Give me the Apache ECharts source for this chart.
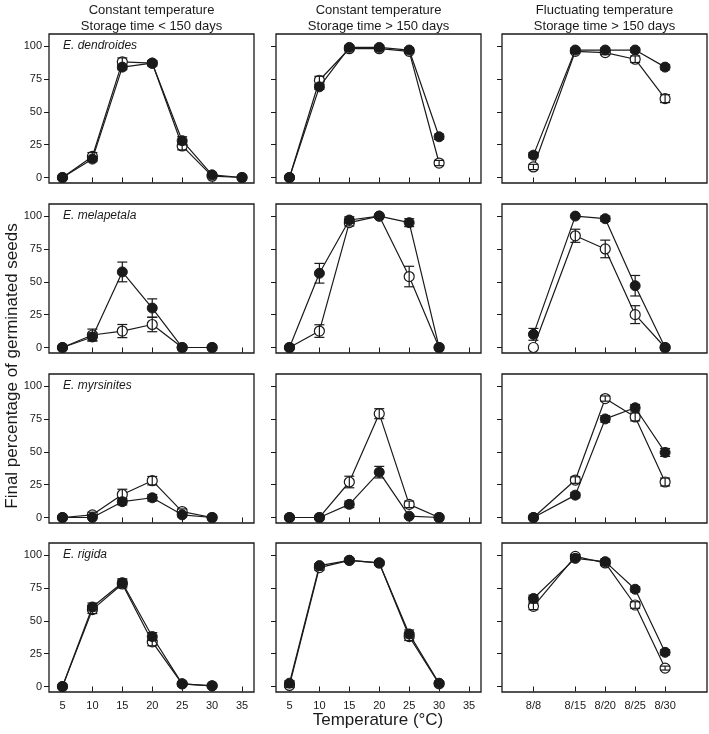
<!DOCTYPE html>
<html>
<head>
<meta charset="utf-8">
<script src="https://cdn.jsdelivr.net/npm/echarts@6/dist/echarts.min.js"></script>
<style>
  html, body { margin: 0; padding: 0; background: #fff; }
  #chart { width: 709px; height: 734px; }
</style>
</head>
<body>
<div id="chart"></div>
<script>
// x positions / tick labels
const tempX = [5, 10, 15, 20, 25, 30, 35]
const fluctX = [8, 15, 20, 25, 30]
const fluctLabels = ['8/8', '8/15', '8/20', '8/25', '8/30']
const yTicks = [0, 25, 50, 75, 100]

const colTitles = [
  'Constant temperature\nStorage time < 150 days',
  'Constant temperature\nStorage time > 150 days',
  'Fluctuating temperature\nStorage time > 150 days'
]
const species = ['E. dendroides', 'E. melapetala', 'E. myrsinites', 'E. rigida']

// E. dendroides
const dendC1Filled = [0, 14, 84, 87, 28, 2, 0]
const dendC1FilledErr = [0, 2, 2, 2, 3, 1, 0]
const dendC1Open = [0, 16, 88, 87, 24, 1, 0]
const dendC1OpenErr = [0, 3, 3, 2, 3, 1, 0]
const dendC2Filled = [0, 69, 99, 99, 97, 31]
const dendC2FilledErr = [0, 2, 1.5, 1.5, 1.5, 2]
const dendC2Open = [0, 74, 98, 98, 96, 11]
const dendC2OpenErr = [0, 3, 1.5, 1.5, 1.5, 2]
const dendC3Filled = [17, 97, 97, 97, 84]
const dendC3FilledErr = [2, 1.5, 1.5, 1.5, 2]
const dendC3Open = [8, 96, 95, 90, 60]
const dendC3OpenErr = [2, 1.5, 1.5, 2.5, 3]

// E. melapetala
const melaC1Filled = [0, 8, 57.5, 30, 0, 0]
const melaC1FilledErr = [0, 3, 7.5, 7, 0, 0]
const melaC1Open = [0, 9.5, 12.5, 17.5, 0, 0]
const melaC1OpenErr = [0, 4.5, 5, 5.5, 0, 0]
const melaC2Filled = [0, 56.5, 97, 100, 95, 0]
const melaC2FilledErr = [0, 7.5, 2.5, 0, 3, 0]
const melaC2Open = [0, 12.5, 95, 100, 54, 0]
const melaC2OpenErr = [0, 4.8, 2.5, 0, 7.8, 0]
const melaC3Filled = [10, 100, 98, 47, 0]
const melaC3FilledErr = [4.5, 0, 2, 7.8, 0]
const melaC3Open = [0, 85, 75, 25, 0]
const melaC3OpenErr = [0, 5, 6.7, 6.8, 0]

// E. myrsinites
const myrsC1Filled = [0, 0, 12, 15, 2, 0]
const myrsC1FilledErr = [0, 0, 2.5, 2.5, 1.5, 0]
const myrsC1Open = [0, 2, 17.5, 28, 4.5, 0]
const myrsC1OpenErr = [0, 2, 4, 3.2, 2, 0]
const myrsC2Filled = [0, 0, 10, 34.5, 1, 0]
const myrsC2FilledErr = [0, 0, 2.5, 4.4, 1, 0]
const myrsC2Open = [0, 0, 27, 79, 10, 0]
const myrsC2OpenErr = [0, 0, 4.4, 3.8, 2.5, 0]
const myrsC3Filled = [0, 17, 75, 83.5, 49.5]
const myrsC3FilledErr = [0, 2, 2.5, 2.5, 3]
const myrsC3Open = [0, 28.5, 90.5, 76.5, 27]
const myrsC3OpenErr = [0, 2.5, 2, 3, 3]

// E. rigida
const rigC1Filled = [0, 60.5, 79, 38, 2, 0.5]
const rigC1FilledErr = [0, 3, 3, 3, 1.5, 1]
const rigC1Open = [0, 58.5, 78, 34, 2, 0.5]
const rigC1OpenErr = [0, 3, 3, 3, 1, 0.5]
const rigC2Filled = [2.5, 92, 96, 94, 40, 2.5]
const rigC2FilledErr = [2, 1.5, 1.5, 1.5, 3, 1.5]
const rigC2Open = [0.8, 90.5, 96, 94, 38, 2]
const rigC2OpenErr = [1.5, 2, 1.5, 1.5, 3, 1.5]
const rigC3Filled = [67, 97.5, 95, 74, 26]
const rigC3FilledErr = [2.5, 1.5, 2, 2, 2]
const rigC3Open = [61, 99, 94, 62, 14]
const rigC3OpenErr = [2.5, 1.5, 2, 2.5, 1.5]

const panels = [
  [dendC1Filled, dendC1FilledErr, dendC1Open, dendC1OpenErr],
  [dendC2Filled, dendC2FilledErr, dendC2Open, dendC2OpenErr],
  [dendC3Filled, dendC3FilledErr, dendC3Open, dendC3OpenErr],
  [melaC1Filled, melaC1FilledErr, melaC1Open, melaC1OpenErr],
  [melaC2Filled, melaC2FilledErr, melaC2Open, melaC2OpenErr],
  [melaC3Filled, melaC3FilledErr, melaC3Open, melaC3OpenErr],
  [myrsC1Filled, myrsC1FilledErr, myrsC1Open, myrsC1OpenErr],
  [myrsC2Filled, myrsC2FilledErr, myrsC2Open, myrsC2OpenErr],
  [myrsC3Filled, myrsC3FilledErr, myrsC3Open, myrsC3OpenErr],
  [rigC1Filled, rigC1FilledErr, rigC1Open, rigC1OpenErr],
  [rigC2Filled, rigC2FilledErr, rigC2Open, rigC2OpenErr],
  [rigC3Filled, rigC3FilledErr, rigC3Open, rigC3OpenErr]
]

// layout
const FONT = "'Liberation Sans', Arial, sans-serif"
const INK = '#1a1a1a'
const gridLefts = [49, 276, 502]
const gridTops = [34, 204, 374, 543]
const gridW = 205
const gridH = 149

const chart = echarts.init(document.getElementById('chart'), null, { renderer: 'canvas' })

// error bar with caps
const errorBars = (params, api) => {
  const x = api.value(0)
  const lo = api.value(1)
  const hi = api.value(2)
  if (hi - lo <= 0) return null
  const top = api.coord([x, hi])
  const bot = api.coord([x, lo])
  const hw = 5
  const style = { stroke: INK, lineWidth: 1.2 }
  return {
    type: 'group',
    children: [
      { type: 'line', shape: { x1: top[0], y1: top[1], x2: bot[0], y2: bot[1] }, style },
      { type: 'line', shape: { x1: top[0] - hw, y1: top[1], x2: top[0] + hw, y2: top[1] }, style },
      { type: 'line', shape: { x1: bot[0] - hw, y1: bot[1], x2: bot[0] + hw, y2: bot[1] }, style }
    ]
  }
}

const grids = []
const xAxes = []
const yAxes = []
const series = []
const graphics = []

panels.forEach((p, i) => {
  const row = Math.floor(i / 3)
  const col = i % 3
  const xs = col === 2 ? fluctX : tempX
  grids.push({
    left: gridLefts[col], top: gridTops[row], width: gridW, height: gridH,
    show: true, borderColor: INK, borderWidth: 1.3, backgroundColor: '#fff'
  })
  xAxes.push({
    type: 'value', gridIndex: i, min: 2.75, max: 37,
    axisLine: { show: false },
    splitLine: { show: false },
    axisTick: { show: true, length: 5, customValues: xs, lineStyle: { color: INK, width: 1 } },
    axisLabel: {
      show: row === 3, customValues: xs, margin: 8, fontSize: 11, color: INK, fontFamily: FONT,
      formatter: v => col === 2 ? fluctLabels[fluctX.indexOf(v)] : String(v)
    }
  })
  yAxes.push({
    type: 'value', gridIndex: i, min: -4.2, max: 109.2,
    axisLine: { show: false },
    splitLine: { show: false },
    axisTick: { show: true, length: 5, customValues: yTicks, lineStyle: { color: INK, width: 1 } },
    axisLabel: { show: col === 0, customValues: yTicks, margin: 7, fontSize: 11, color: INK, fontFamily: FONT }
  })

  const [filled, filledErr, open, openErr] = p
  const pts = vals => vals.map((v, k) => [xs[k], v])
  const errs = (vals, e) => vals.map((v, k) => [xs[k], v - e[k], v + e[k]])

  series.push({
    type: 'line', xAxisIndex: i, yAxisIndex: i, data: pts(open),
    symbol: 'circle', symbolSize: 10, z: 2,
    lineStyle: { color: INK, width: 1.2 },
    itemStyle: { color: '#fff', borderColor: INK, borderWidth: 1.2 },
    animation: false
  })
  series.push({
    type: 'line', xAxisIndex: i, yAxisIndex: i, data: pts(filled),
    symbol: 'circle', symbolSize: 10, z: 3,
    lineStyle: { color: INK, width: 1.2 },
    itemStyle: { color: INK, borderColor: INK, borderWidth: 1 },
    animation: false
  })
  series.push({
    type: 'custom', xAxisIndex: i, yAxisIndex: i, data: errs(open, openErr),
    renderItem: errorBars, encode: { x: 0, y: [1, 2] }, z: 4, clip: false, animation: false
  })
  series.push({
    type: 'custom', xAxisIndex: i, yAxisIndex: i, data: errs(filled, filledErr),
    renderItem: errorBars, encode: { x: 0, y: [1, 2] }, z: 4, clip: false, animation: false
  })

  if (col === 0) {
    graphics.push({
      type: 'text', x: gridLefts[0] + 14, y: gridTops[row] + 12, z: 10,
      style: { text: species[row], font: 'italic 12px ' + FONT, fill: INK, textVerticalAlign: 'middle' }
    })
  }
})

colTitles.forEach((t, c) => {
  graphics.push({
    type: 'text', x: gridLefts[c] + gridW / 2, y: 2,
    style: { text: t, font: '13px ' + FONT, fill: INK, textAlign: 'center', lineHeight: 16 }
  })
})

graphics.push({
  type: 'text', x: 12, y: 366, rotation: Math.PI / 2,
  style: { text: 'Final percentage of germinated seeds', font: '17px ' + FONT, fill: INK,
    textAlign: 'center', textVerticalAlign: 'middle' }
})
graphics.push({
  type: 'text', x: 378, y: 720,
  style: { text: 'Temperature (°C)', font: '17px ' + FONT, fill: INK,
    textAlign: 'center', textVerticalAlign: 'middle' }
})

chart.setOption({
  backgroundColor: '#fff',
  animation: false,
  grid: grids,
  xAxis: xAxes,
  yAxis: yAxes,
  series: series,
  graphic: graphics
})
</script>
</body>
</html>
